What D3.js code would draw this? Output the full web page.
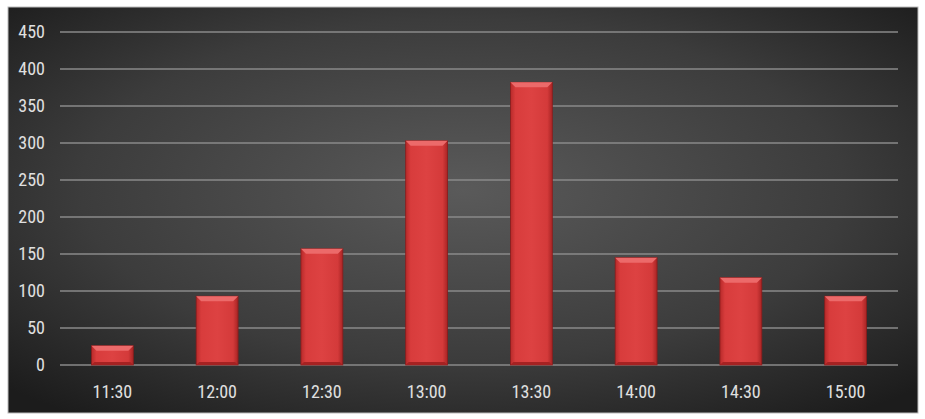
<!DOCTYPE html>
<html><head><meta charset="utf-8">
<script src="https://cdn.jsdelivr.net/npm/d3@7"></script>
<style>html,body{margin:0;padding:0;background:#fff;}svg{display:block;}</style>
</head><body><div id="chart"></div>
<script>
const categories = ["11:30","12:00","12:30","13:00","13:30","14:00","14:30","15:00"];
const values = [26, 93, 157, 303, 382, 145, 118, 93];
const yTicks = [0,50,100,150,200,250,300,350,400,450];

const W = 925, H = 419;
const svg = d3.select("#chart").append("svg").attr("width", W).attr("height", H);
const defs = svg.append("defs");
const bg = defs.append("radialGradient").attr("id","bg").attr("cx","50%").attr("cy","45%").attr("r","70%");
bg.append("stop").attr("offset","0%").attr("stop-color","#5a5a5a");
bg.append("stop").attr("offset","60%").attr("stop-color","#3c3c3c");
bg.append("stop").attr("offset","100%").attr("stop-color","#1c1c1c");
const bar = defs.append("linearGradient").attr("id","bar").attr("x1","0").attr("x2","1");
bar.append("stop").attr("offset","0%").attr("stop-color","#b72a2a");
bar.append("stop").attr("offset","12%").attr("stop-color","#d83c3c");
bar.append("stop").attr("offset","50%").attr("stop-color","#dd4242");
bar.append("stop").attr("offset","88%").attr("stop-color","#d43a3a");
bar.append("stop").attr("offset","100%").attr("stop-color","#a82424");

svg.append("rect").attr("x",8).attr("y",7).attr("width",910).attr("height",406)
  .attr("fill","url(#bg)").attr("stroke","#bbb").attr("stroke-width",1);

const x = d3.scaleBand().domain(categories).range([60, 898]).paddingInner(0.6).paddingOuter(0.3);
const y = d3.scaleLinear().domain([0,450]).range([365, 32]);

const font = "'Liberation Sans Narrow','Roboto Condensed','Liberation Sans',Arial,sans-serif";

// gridlines
svg.append("g").selectAll("line").data(yTicks).join("line")
  .attr("x1",60).attr("x2",898).attr("y1",d=>y(d)).attr("y2",d=>y(d))
  .attr("stroke","#8a8a8a").attr("stroke-width",1.3);

// y labels
svg.append("g").selectAll("text").data(yTicks).join("text")
  .attr("x",45).attr("y",d=>y(d)).attr("dy","0.35em").attr("text-anchor","end")
  .attr("fill","#e0e0e0").attr("font-family",font).attr("font-size",18).text(d=>d);

// bars
const g = svg.append("g").selectAll("g").data(categories.map((c,i)=>({c,v:values[i]}))).join("g");
g.append("rect").attr("x",d=>x(d.c)).attr("y",d=>y(d.v)).attr("width",x.bandwidth())
  .attr("height",d=>y(0)-y(d.v)).attr("fill","url(#bar)").attr("stroke","#8a1c1c").attr("stroke-width",0.8);
// top bevel
g.append("path").attr("d",d=>{
  const x0=x(d.c), x1=x0+x.bandwidth(), t=y(d.v), b=5;
  return `M${x0},${t}L${x1},${t}L${x1-b},${t+b}L${x0+b},${t+b}Z`;
}).attr("fill","#ec6a6a");
// bottom bevel
g.append("path").attr("d",d=>{
  const x0=x(d.c), x1=x0+x.bandwidth(), bt=y(0), b=3;
  return `M${x0},${bt}L${x1},${bt}L${x1-b},${bt-b}L${x0+b},${bt-b}Z`;
}).attr("fill","#a52222");

// x labels
svg.append("g").selectAll("text").data(categories).join("text")
  .attr("x",d=>x(d)+x.bandwidth()/2).attr("y",398).attr("text-anchor","middle")
  .attr("fill","#e0e0e0").attr("font-family",font).attr("font-size",18).text(d=>d);
</script></body></html>
